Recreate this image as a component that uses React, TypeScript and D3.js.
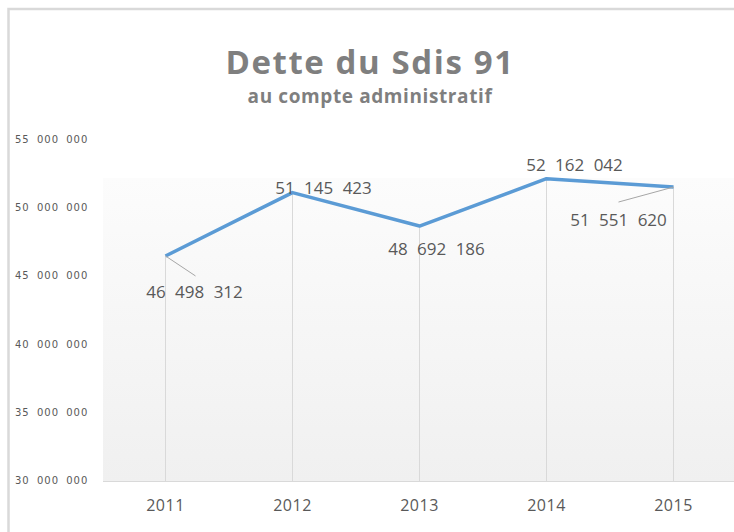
import * as d3 from "d3";

const years = ["2011", "2012", "2013", "2014", "2015"];
const debt = [46498312, 51145423, 48692186, 52162042, 51551620];
const yTicks = [30000000, 35000000, 40000000, 45000000, 50000000, 55000000];

// where each data label sits relative to its point (Excel moved some of them)
const labelOffsets = [
  { dx: 29, dy: 42, leader: [30, 20] },
  { dx: 31, dy: 1, leader: null },
  { dx: 17, dy: 29, leader: null },
  { dx: 28, dy: -8, leader: null },
  { dx: -55, dy: 39, leader: [-55, 15] },
];

const W = 734;
const H = 532;

const fr = d3.formatLocale({
  decimal: ",",
  thousands: " ",
  grouping: [3],
  currency: ["", " €"],
});
const fmt = fr.format(",d");

export default function App() {
  const x = d3.scaleBand().domain(years).range([102, 737]);
  const y = d3.scaleLinear().domain([30000000, 55000000]).range([481, 140]);
  const cx = (yr: string) => (x(yr) ?? 0) + x.bandwidth() / 2;

  const line = d3
    .line<number>()
    .x((_, i) => cx(years[i]))
    .y((d) => y(d));

  const textCol = "#595959";

  return (
    <div style={{ position: "absolute", left: 0, top: 0 }}>
      <svg width={W} height={H} style={{ display: "block", background: "#fff" }}>
        <defs>
          <linearGradient id="plotbg" x1="0" y1="0" x2="0" y2="1">
            <stop offset="0" stopColor="#fcfcfc" />
            <stop offset="1" stopColor="#f0f0f0" />
          </linearGradient>
        </defs>

        {/* chart frame */}
        <rect x={8.5} y={9} width={W + 20} height={H + 20} fill="#fff" stroke="#d9d9d9" strokeWidth={2.5} />

        {/* plot area */}
        <rect x={103} y={178} width={W - 103} height={481 - 178} fill="url(#plotbg)" />

        <text
          x={370}
          y={74}
          textAnchor="middle"
          fontFamily="'Open Sans', sans-serif"
          fontWeight="bold"
          fontSize={33}
          letterSpacing={1.6}
          fill="#7f7f7f"
        >
          Dette du Sdis 91
        </text>
        <text
          x={370}
          y={103}
          textAnchor="middle"
          fontFamily="'Open Sans', sans-serif"
          fontWeight="bold"
          fontSize={19}
          letterSpacing={0.6}
          fill="#7f7f7f"
        >
          au compte administratif
        </text>

        {/* y axis labels */}
        {yTicks.map((t) => (
          <text
            key={t}
            x={15}
            y={y(t)}
            dominantBaseline="middle"
            fontFamily="'DejaVu Sans', sans-serif"
            fontSize={10}
            letterSpacing={1}
            wordSpacing={3}
            fill={textCol}
          >
            {fmt(t)}
          </text>
        ))}

        {/* drop lines */}
        {debt.map((v, i) => (
          <line
            key={"drop" + i}
            x1={cx(years[i])}
            x2={cx(years[i])}
            y1={y(v)}
            y2={y(30000000)}
            stroke="#d9d9d9"
            strokeWidth={1}
          />
        ))}

        {/* category axis */}
        <line x1={103} x2={W} y1={y(30000000) + 0.5} y2={y(30000000) + 0.5} stroke="#d9d9d9" strokeWidth={1} />
        {years.map((yr) => (
          <text
            key={yr}
            x={cx(yr)}
            y={511}
            textAnchor="middle"
            fontFamily="'Open Sans', sans-serif"
            fontSize={16}
            letterSpacing={0.5}
            fill={textCol}
          >
            {yr}
          </text>
        ))}

        <path d={line(debt) ?? ""} fill="none" stroke="#5b9bd5" strokeWidth={3.5} strokeLinejoin="round" />

        {/* data labels */}
        {debt.map((v, i) => {
          const px = cx(years[i]);
          const py = y(v);
          const o = labelOffsets[i];
          return (
            <g key={"lab" + i}>
              {o.leader && (
                <line
                  x1={px}
                  y1={py}
                  x2={px + o.leader[0]}
                  y2={py + o.leader[1]}
                  stroke="#a6a6a6"
                  strokeWidth={1}
                />
              )}
              <text
                x={px + o.dx}
                y={py + o.dy}
                textAnchor="middle"
                fontFamily="'Open Sans', sans-serif"
                fontSize={17}
                wordSpacing={5}
                fill={textCol}
              >
                {fmt(v)}
              </text>
            </g>
          );
        })}
      </svg>
    </div>
  );
}
